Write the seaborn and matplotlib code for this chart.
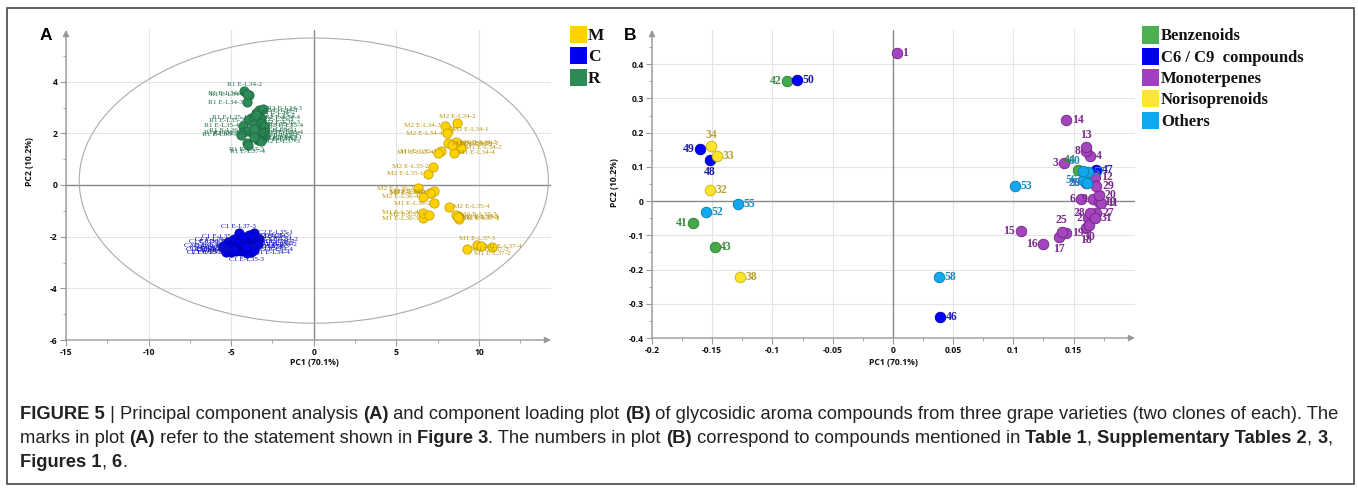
import numpy as np
import pandas as pd
import matplotlib
matplotlib.use("Agg")
import matplotlib.pyplot as plt
import seaborn as sns
from matplotlib.patches import Rectangle, Ellipse
from matplotlib import font_manager as fm

# ------------------------------------------------------------------ data A
clones = [1, 2]
stages = ["34", "35", "36", "37"]
reps = [1, 2, 3, 4]

M_pc1 = [8.7, 8.9, 8.6, 8.5, 8.1, 8.35, 7.7, 7.5, 7.1, 7.3, 6.6, 6.6, 9.9, 10.8, 9.3, 10.1,
         8.1, 8.67, 7.94, 8.06, 6.9, 7.2, 8.7, 8.2, 7.3, 6.3, 7.05, 6.6, 7.0, 8.8, 8.6, 8.75]
M_pc2 = [1.6, 1.45, 1.65, 1.25, 1.62, 1.55, 1.3, 1.25, -0.3, -0.7, -1.28, -1.08, -2.33, -2.4, -2.48, -2.38,
         2.13, 2.4, 2.29, 2.0, 0.43, 0.7, -1.2, -0.85, -0.25, -0.12, -0.3, -0.46, -1.16, -1.3, -1.15, -1.25]
C_pc1 = [-3.5, -3.3, -3.6, -3.8, -4.4, -4.0, -4.06, -4.3, -5.2, -5.0, -4.8, -5.4, -4.6, -4.5, -4.55, -5.0,
         -3.7, -3.4, -3.9, -3.6, -3.6, -4.2, -3.9, -4.4, -4.9, -5.3, -5.1, -5.5, -4.3, -4.7, -4.1, -4.8]
C_pc2 = [-2.2, -2.1, -2.25, -2.6, -2.0, -2.1, -2.63, -2.45, -2.2, -2.35, -2.1, -2.5, -2.2, -2.45, -1.85, -2.6,
         -2.0, -2.3, -2.4, -2.5, -1.85, -2.3, -1.95, -2.55, -2.4, -2.6, -2.45, -2.35, -2.0, -2.55, -2.4, -2.5]
R_pc1 = [-3.9, -4.2, -4.05, -4.05, -3.8, -4.0, -3.6, -4.3, -4.3, -4.0, -4.4, -3.7, -3.3, -3.4, -4.05, -4.0,
         -3.3, -3.5, -3.1, -3.2, -3.6, -3.5, -3.2, -3.0, -3.4, -3.2, -3.6, -3.0, -3.1, -3.4, -3.2, -3.6]
R_pc2 = [3.5, 3.64, 3.2, 3.53, 2.6, 2.5, 2.55, 2.3, 2.05, 2.1, 1.95, 2.0, 1.9, 1.75, 1.63, 1.55,
         2.9, 2.8, 2.95, 2.6, 2.35, 2.7, 2.4, 2.3, 2.1, 2.0, 2.15, 2.05, 1.85, 1.8, 1.7, 1.85]

def sample_names(v):
    return [f"{v}{c} E-L{s}-{r}" for c in clones for s in stages for r in reps]

dfA = pd.concat([
    pd.DataFrame({"PC1": M_pc1, "PC2": M_pc2, "Variety": "M", "Sample": sample_names("M")}),
    pd.DataFrame({"PC1": C_pc1, "PC2": C_pc2, "Variety": "C", "Sample": sample_names("C")}),
    pd.DataFrame({"PC1": R_pc1, "PC2": R_pc2, "Variety": "R", "Sample": sample_names("R")}),
], ignore_index=True)

# ------------------------------------------------------------------ data B
bz_ids = ["41", "42", "43", "44"]
bz_pc1 = [-0.166, -0.088, -0.148, 0.154]
bz_pc2 = [-0.064, 0.350, -0.134, 0.090]
c6_ids = ["46", "47", "48", "49", "50"]
c6_pc1 = [0.039, 0.169, -0.152, -0.160, -0.080]
c6_pc2 = [-0.340, 0.090, 0.120, 0.152, 0.353]
mono_ids = ["1", "2", "3", "4", "6", "8", "9", "10", "11", "12", "13", "14", "15", "16", "17", "18",
            "19", "20", "25", "26", "27", "28", "29", "30", "31"]
mono_pc1 = [0.003, 0.162, 0.142, 0.164, 0.156, 0.160, 0.166, 0.171, 0.173, 0.168, 0.160, 0.144, 0.106,
            0.125, 0.138, 0.160, 0.144, 0.171, 0.140, 0.160, 0.169, 0.164, 0.169, 0.163, 0.168]
mono_pc2 = [0.434, -0.050, 0.110, 0.131, 0.006, 0.146, 0.006, -0.003, -0.006, 0.070, 0.158, 0.236, -0.087,
            -0.125, -0.105, -0.080, -0.093, 0.018, -0.090, 0.052, -0.035, -0.035, 0.044, -0.070, -0.050]
nor_ids = ["32", "33", "34", "38"]
nor_pc1 = [-0.152, -0.146, -0.151, -0.127]
nor_pc2 = [0.032, 0.131, 0.160, -0.221]
oth_ids = ["52", "53", "55", "56", "57", "58", "59", "60"]
oth_pc1 = [-0.155, 0.101, -0.129, 0.158, 0.162, 0.038, 0.161, 0.158]
oth_pc2 = [-0.033, 0.044, -0.008, 0.061, 0.086, -0.222, 0.052, 0.088]

classes = ["Benzenoids", "C6 / C9  compounds", "Monoterpenes", "Norisoprenoids", "Others"]
dfB = pd.concat([
    pd.DataFrame({"PC1": bz_pc1, "PC2": bz_pc2, "Class": classes[0], "ID": bz_ids}),
    pd.DataFrame({"PC1": c6_pc1, "PC2": c6_pc2, "Class": classes[1], "ID": c6_ids}),
    pd.DataFrame({"PC1": mono_pc1, "PC2": mono_pc2, "Class": classes[2], "ID": mono_ids}),
    pd.DataFrame({"PC1": nor_pc1, "PC2": nor_pc2, "Class": classes[3], "ID": nor_ids}),
    pd.DataFrame({"PC1": oth_pc1, "PC2": oth_pc2, "Class": classes[4], "ID": oth_ids}),
], ignore_index=True)

xticksA = [-15, -10, -5, 0, 5, 10]
yticksA = [-6, -4, -2, 0, 2, 4]
xticksB = [-0.2, -0.15, -0.1, -0.05, 0, 0.05, 0.1, 0.15]
xticklabB = ["-0.2", "-0.15", "-0.1", "-0.05", "0", "0.05", "0.1", "0.15"]
yticksB = [-0.4, -0.3, -0.2, -0.1, 0, 0.1, 0.2, 0.3, 0.4]
yticklabB = ["-0.4", "-0.3", "-0.2", "-0.1", "0", "0.1", "0.2", "0.3", "0.4"]

# ------------------------------------------------------------------ styles
W, H, DPI = 1358, 488, 100
sns.set_theme(style="white")
plt.rcParams["font.family"] = ["DejaVu Sans"]
plt.rcParams["axes.unicode_minus"] = False

def has_font(name):
    try:
        fm.findfont(fm.FontProperties(family=name), fallback_to_default=False)
        return True
    except Exception:
        return False

TICKFONT = "Open Sans" if has_font("Open Sans") else "DejaVu Sans"
SERIF = "Liberation Serif" if has_font("Liberation Serif") else "DejaVu Serif"
CAPFONT = "Liberation Sans Narrow" if has_font("Liberation Sans Narrow") else "Liberation Sans"

colA = {"M": "#FFD200", "C": "#0000F0", "R": "#2E8B57"}
edgeA = {"M": "#C9A100", "C": "#00009A", "R": "#1F6B43"}
txtA = {"M": "#B8960C", "C": "#1212C0", "R": "#1E6E46"}
colB = {classes[0]: "#45A849", classes[1]: "#0000FF", classes[2]: "#A445BF",
        classes[3]: "#FFE42E", classes[4]: "#11A9ED"}
edgeB = {classes[0]: "#2B7A30", classes[1]: "#00009A", classes[2]: "#6E2482",
         classes[3]: "#C9B000", classes[4]: "#0A78B0"}
txtB = {classes[0]: "#3A8A3A", classes[1]: "#1C1CA8", classes[2]: "#7A2A8C",
        classes[3]: "#B9A232", classes[4]: "#1C8CC4"}
legB = {classes[0]: "#4CAF50", classes[1]: "#0000EE", classes[2]: "#A040C0",
        classes[3]: "#FFE633", classes[4]: "#10A8F0"}

fig = plt.figure(figsize=(W / DPI, H / DPI), dpi=DPI)
fig.patch.set_facecolor("white")

def rect_px(l, t, r, b):
    return [l / W, 1 - b / H, (r - l) / W, (b - t) / H]

axA = fig.add_axes(rect_px(66, 30, 551, 340))
axB = fig.add_axes(rect_px(652, 30, 1135, 338))

def style_axis(ax):
    for s in ax.spines.values():
        s.set_visible(False)
    ax.set_axisbelow(True)
    ax.grid(True, which="major", color="#E4E4E4", lw=0.8)
    ax.tick_params(which="major", length=4, width=0.8, color="#9A9A9A", direction="out",
                   labelsize=6.2, pad=2, left=True, bottom=True)
    ax.tick_params(which="minor", length=2.5, width=0.6, color="#9A9A9A", direction="out",
                   left=True, bottom=True)
    for lab in ax.get_xticklabels() + ax.get_yticklabels():
        lab.set_fontfamily(TICKFONT)
        lab.set_fontweight("bold")
        lab.set_color("#111111")
    ax.axhline(0, color="#8A8A8A", lw=1.0, zorder=1)
    ax.axvline(0, color="#8A8A8A", lw=1.0, zorder=1)
    ax.annotate("", xy=(1, 0), xytext=(0, 0), xycoords="axes fraction",
                arrowprops=dict(arrowstyle="-|>", color="#999999", lw=1.0, mutation_scale=9,
                                shrinkA=0, shrinkB=0), annotation_clip=False)
    ax.annotate("", xy=(0, 1), xytext=(0, 0), xycoords="axes fraction",
                arrowprops=dict(arrowstyle="-|>", color="#999999", lw=1.0, mutation_scale=9,
                                shrinkA=0, shrinkB=0), annotation_clip=False)

# ------------------------------------------------------------------ panel A
axA.set_xlim(-15, 14.36)
axA.set_ylim(-6, 6.0)
axA.set_xticks(xticksA)
axA.set_yticks(yticksA)
axA.set_xticks(np.arange(-15, 14, 2.5), minor=True)
axA.set_yticks(np.arange(-6, 6, 1.0), minor=True)
axA.add_patch(Ellipse((0, 0.17), width=2 * 14.2, height=2 * 5.52, fill=False,
                      edgecolor="#ABABAB", lw=0.8, zorder=1.5))
for v in ["M", "C", "R"]:
    sub = dfA[dfA["Variety"] == v]
    sns.scatterplot(data=sub, x="PC1", y="PC2", color=colA[v], edgecolor=edgeA[v],
                    linewidth=0.6, s=44, ax=axA, legend=False, zorder=3)

sideA = {"R1 E-L34-2": "t", "M2 E-L34-2": "t", "C1 E-L35-3": "b", "R1 E-L37-4": "b",
         "M1 E-L37-2": "b", "M1 E-L37-1": "t", "C1 E-L37-3": "t", "R1 E-L37-3": "b"}
for v in ["M", "C", "R"]:
    sub = dfA[dfA["Variety"] == v]
    cx = sub["PC1"].mean()
    for _, row in sub.iterrows():
        side = sideA.get(row["Sample"], "r" if row["PC1"] >= cx else "l")
        off = {"r": (3, 0), "l": (-3, 0), "t": (0, 3), "b": (0, -3)}[side]
        ha = {"r": "left", "l": "right", "t": "center", "b": "center"}[side]
        va = {"r": "center", "l": "center", "t": "bottom", "b": "top"}[side]
        axA.annotate(row["Sample"], (row["PC1"], row["PC2"]), xytext=off, textcoords="offset points",
                     ha=ha, va=va, fontsize=5.2, family=SERIF, color=txtA[v], zorder=4)

axA.set_xlabel("")
axA.set_ylabel("")
style_axis(axA)
axA.set_xlabel("PC1 (70.1%)", fontsize=6.2, fontweight="bold", family=TICKFONT, color="#111")
axA.set_ylabel("PC2 (10.2%)", fontsize=6.2, fontweight="bold", family=TICKFONT, color="#111")
axA.xaxis.set_label_coords((314 - 66) / 485, (340 - 358) / 310)
axA.yaxis.set_label_coords((34 - 66) / 485, (340 - 162) / 310)

# ------------------------------------------------------------------ panel B
axB.set_xlim(-0.2, 0.201)
axB.set_ylim(-0.4, 0.5)
axB.set_xticks(xticksB)
axB.set_xticklabels(xticklabB)
axB.set_yticks(yticksB)
axB.set_yticklabels(yticklabB)
axB.set_xticks(np.arange(-0.2, 0.2, 0.025), minor=True)
axB.set_yticks(np.arange(-0.4, 0.5, 0.05), minor=True)
for c in classes:
    sub = dfB[dfB["Class"] == c]
    sns.scatterplot(data=sub, x="PC1", y="PC2", color=colB[c], edgecolor=edgeB[c],
                    linewidth=0.6, s=58, ax=axB, legend=False, zorder=3)

sideB = {"1": "r", "42": "l", "50": "r", "34": "t", "49": "l", "33": "r", "48": "b", "32": "r",
         "52": "r", "55": "r", "41": "l", "43": "r", "38": "r", "58": "r", "46": "r", "53": "r",
         "14": "r", "13": "t", "8": "l", "4": "r", "3": "l", "44": "tl", "60": "tl", "47": "r",
         "12": "r", "29": "r", "20": "r", "6": "l", "9": "l", "10": "r", "11": "r", "28": "l",
         "2": "l", "27": "r", "30": "b", "31": "r", "25": "t", "19": "r", "18": "b", "17": "b",
         "15": "l", "16": "l", "26": "l", "56": "l", "57": "r", "59": "l"}
offB = {"r": (4, 0), "l": (-4, 0), "t": (0, 4), "b": (0, -4), "tl": (-2, 3)}
haB = {"r": "left", "l": "right", "t": "center", "b": "center", "tl": "right"}
vaB = {"r": "center", "l": "center", "t": "bottom", "b": "top", "tl": "bottom"}
for _, row in dfB.iterrows():
    side = sideB.get(row["ID"], "r")
    axB.annotate(row["ID"], (row["PC1"], row["PC2"]), xytext=offB[side], textcoords="offset points",
                 ha=haB[side], va=vaB[side], fontsize=8.5, fontweight="bold", family=SERIF,
                 color=txtB[row["Class"]], zorder=4)

axB.set_xlabel("")
axB.set_ylabel("")
style_axis(axB)
axB.set_xlabel("PC1 (70.1%)", fontsize=6.2, fontweight="bold", family=TICKFONT, color="#111")
axB.set_ylabel("PC2 (10.2%)", fontsize=6.2, fontweight="bold", family=TICKFONT, color="#111")
axB.xaxis.set_label_coords((893 - 652) / 483, (338 - 358) / 308)
axB.yaxis.set_label_coords((619 - 652) / 483, (338 - 183) / 308)

# ------------------------------------------------------------------ legends
def fig_rect(l, t, w, h, color):
    fig.add_artist(Rectangle((l / W, 1 - (t + h) / H), w / W, h / H, transform=fig.transFigure,
                             facecolor=color, edgecolor="none"))

for i, v in enumerate(["M", "C", "R"]):
    yc = 34.5 + i * 21.3
    fig_rect(570, yc - 8.5, 16.5, 17, colA[v] if v != "C" else "#0000EE")
    fig.text(588 / W, 1 - (yc + 5.5) / H, v, fontsize=12.5, fontweight="bold", family=SERIF,
             color="#111", va="baseline", ha="left")

for i, c in enumerate(classes):
    yc = 35 + i * 21.3
    fig_rect(1142, yc - 8.5, 16.5, 17, legB[c])
    fig.text(1161 / W, 1 - (yc + 5.5) / H, c, fontsize=12, fontweight="bold", family=SERIF,
             color="#111", va="baseline", ha="left")

fig.text(40 / W, 1 - 39.5 / H, "A", fontsize=12.5, fontweight="bold", family="Liberation Sans",
         color="#000", ha="left", va="baseline")
fig.text(624 / W, 1 - 39.5 / H, "B", fontsize=12.5, fontweight="bold", family="Liberation Sans",
         color="#000", ha="left", va="baseline")

# outer frame
fig.add_artist(Rectangle((7 / W, 1 - 484 / H), (1354 - 7) / W, (484 - 8) / H,
                         transform=fig.transFigure, fill=False, edgecolor="#555555", lw=1.3))

# ------------------------------------------------------------------ caption
cap_lines = [
    [("FIGURE 5", True), (" | Principal component analysis ", False), ("(A)", True),
     (" and component loading plot ", False), ("(B)", True),
     (" of glycosidic aroma compounds from three grape varieties (two clones of each). The", False)],
    [("marks in plot ", False), ("(A)", True), (" refer to the statement shown in ", False),
     ("Figure 3", True), (". The numbers in plot ", False), ("(B)", True),
     (" correspond to compounds mentioned in ", False), ("Table 1", True), (", ", False),
     ("Supplementary Tables 2", True), (", ", False), ("3", True), (",", False)],
    [("Figures 1", True), (", ", False), ("6", True), (".", False)],
]

renderer = fig.canvas.get_renderer()

def seg_width(txt, bold, fs):
    t = fig.text(0, 0, "|" + txt + "|", fontsize=fs, fontweight="bold" if bold else "normal",
                 family=CAPFONT)
    t2 = fig.text(0, 0, "||", fontsize=fs, fontweight="bold" if bold else "normal", family=CAPFONT)
    w = t.get_window_extent(renderer).width - t2.get_window_extent(renderer).width
    t.remove()
    t2.remove()
    return w

base = 10.0
tot = sum(seg_width(s, b, base) for s, b in cap_lines[0])
fs_cap = base * (1345 - 20) / tot
baselines = [419, 443, 467]
for line, yb in zip(cap_lines, baselines):
    x = 20.0
    for s, b in line:
        fig.text(x / W, 1 - yb / H, s, fontsize=fs_cap, fontweight="bold" if b else "normal",
                 family=CAPFONT, color="#222222", ha="left", va="baseline")
        x += seg_width(s, b, fs_cap)

fig.savefig("out.png", dpi=DPI, facecolor="white")
